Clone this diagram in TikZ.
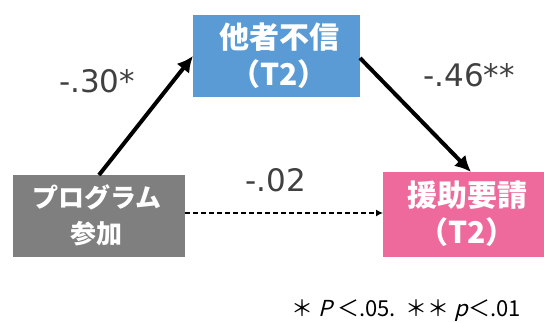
\documentclass[tikz,border=0pt]{standalone}
\usepackage{fontspec}
\setmainfont{DejaVu Sans}
\newfontfamily\jpfont{Noto Sans CJK JP}
\newfontfamily\jpslant[FakeSlant=0.25]{Noto Sans CJK JP}
\usetikzlibrary{arrows.meta}
\definecolor{boxgray}{HTML}{7F7F7F}
\definecolor{boxblue}{HTML}{5B9BD5}
\definecolor{boxpink}{HTML}{EE6A9C}
\definecolor{coefgray}{HTML}{404040}
\tikzset{
  box/.style={inner sep=0pt, text=white, align=center, font=\jpfont\bfseries\fontsize{30}{37}\selectfont},
  smallbox/.style={box, font=\jpfont\bfseries\fontsize{26}{36}\selectfont},
  thickarrow/.style={line width=4pt, -{Latex[length=16pt,width=16pt]}},
  dasharrow/.style={line width=1.3pt, dashed, dash pattern=on 5pt off 3pt, -{Latex[length=7pt,width=7pt]}},
  coef/.style={font=\fontsize{31}{36}\selectfont, inner sep=0pt, text=coefgray}
}
\begin{document}
\begin{tikzpicture}[x=1pt,y=-1pt]
\useasboundingbox (0,0) rectangle (544,323);
\fill[boxgray] (13,175) rectangle (185,257);
\node[smallbox] (prog) at (97,215) {プログラム\\参加};
\fill[boxblue] (193,15) rectangle (360,97);
\node[box] (dist) at (279,56) {他者不信\\（T2）};
\fill[boxpink] (383,172) rectangle (544,257);
\node[box] (help) at (467,214) {援助要請\\（T2）};
\coordinate (progtop) at (99,175);
\coordinate (progright) at (185,213);
\coordinate (distleft) at (193,56);
\coordinate (distright) at (360,58);
\coordinate (helptop) at (471,172);
\coordinate (helpleft) at (383,213);
\draw[thickarrow] (progtop) -- (distleft);
\draw[thickarrow] (distright) -- (helptop);
\draw[dasharrow] (progright) -- (helpleft);
\node[coef] (c1) at (97,81) {-.30*};
\node[coef] (c2) at (469,75) {-.46**};
\node[coef] (c3) at (276,180) {-.02};
\node[font=\jpfont\fontsize{22}{26}\selectfont, anchor=east, inner sep=0pt] (note) at (521,311) {＊ {\jpslant P} ＜.05.\ \ ＊＊ {\jpslant p}＜.01};
\end{tikzpicture}
\end{document}
